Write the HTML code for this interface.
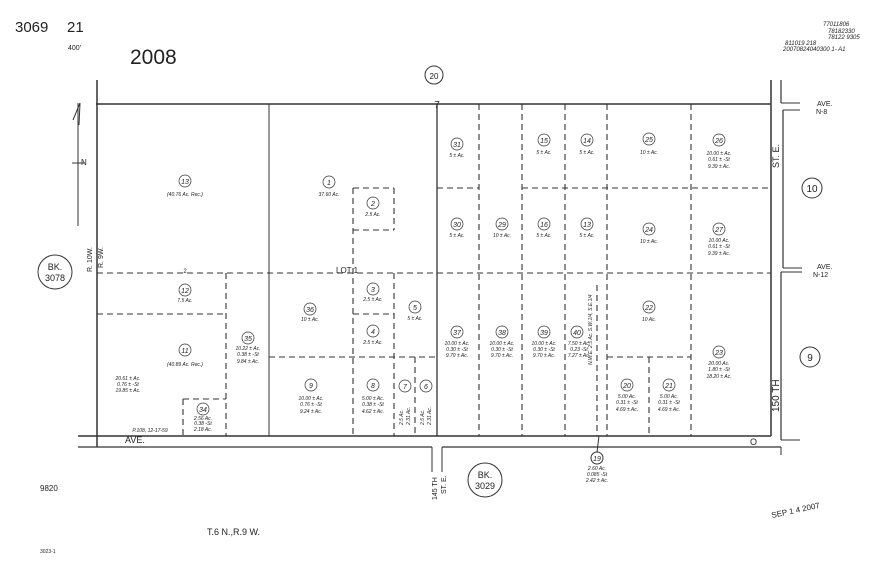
<!DOCTYPE html>
<html><head><meta charset="utf-8"><style>
html,body{margin:0;padding:0;background:#fff;}
svg{display:block;}
text{font-family:"Liberation Sans",sans-serif;fill:#222;}
.s{font-size:5px;font-style:italic;}
.n{font-size:7px;font-style:italic;}
</style></head><body>
<svg width="880" height="565" viewBox="0 0 880 565" xmlns="http://www.w3.org/2000/svg">
<g stroke="#333" fill="none">
<!-- solid lines -->
<line x1="96" y1="104" x2="771" y2="104" stroke-width="1.5"/>
<line x1="97" y1="80" x2="97" y2="447" stroke-width="1.5"/>
<line x1="269" y1="104" x2="269" y2="436" stroke-width="1"/>
<line x1="437" y1="104" x2="437" y2="436" stroke-width="1.3"/>
<line x1="771" y1="80" x2="771" y2="436" stroke-width="1.5"/>
<line x1="781" y1="80" x2="781" y2="103" stroke-width="1.2"/>
<line x1="781" y1="103" x2="800" y2="103" stroke-width="1"/>
<line x1="783" y1="110" x2="800" y2="110" stroke-width="1"/>
<line x1="783" y1="110" x2="783" y2="268" stroke-width="1.2"/>
<line x1="783" y1="268" x2="802" y2="268" stroke-width="1"/>
<line x1="781" y1="272" x2="802" y2="272" stroke-width="1"/>
<line x1="781" y1="272" x2="781" y2="440" stroke-width="1.2"/>
<line x1="78" y1="436" x2="771" y2="436" stroke-width="1.5"/>
<line x1="78" y1="447" x2="432" y2="447" stroke-width="1.3"/>
<line x1="442" y1="447" x2="781" y2="447" stroke-width="1.3"/>
<line x1="781" y1="440" x2="800" y2="440" stroke-width="1"/>
<line x1="781" y1="447" x2="781" y2="455" stroke-width="1"/>
<line x1="432" y1="447" x2="432" y2="472" stroke-width="1"/>
<line x1="442" y1="447" x2="442" y2="472" stroke-width="1"/>
<!-- north arrow -->
<line x1="78" y1="103" x2="78" y2="226" stroke-width="1"/>
<line x1="72" y1="163" x2="84" y2="163" stroke-width="1"/>
<path d="M73 120 L80 103 L79 125" stroke-width="1"/>
<!-- dashed lines -->
<g stroke-dasharray="6,4" stroke-width="1.1">
<line x1="97" y1="273" x2="771" y2="273"/>
<line x1="437" y1="188" x2="479" y2="188"/>
<line x1="522" y1="188" x2="771" y2="188"/>
<line x1="353" y1="188" x2="394" y2="188"/>
<line x1="353" y1="230" x2="394" y2="230"/>
<line x1="394" y1="188" x2="394" y2="230"/>
<line x1="353" y1="188" x2="353" y2="436"/>
<line x1="394" y1="273" x2="394" y2="436"/>
<line x1="353" y1="314" x2="394" y2="314"/>
<line x1="269" y1="357" x2="437" y2="357"/>
<line x1="415" y1="357" x2="415" y2="436"/>
<line x1="97" y1="314" x2="226" y2="314"/>
<line x1="226" y1="273" x2="226" y2="436"/>
<line x1="183" y1="399" x2="226" y2="399"/>
<line x1="183" y1="399" x2="183" y2="436"/>
<line x1="479" y1="104" x2="479" y2="436"/>
<line x1="522" y1="104" x2="522" y2="436"/>
<line x1="565" y1="104" x2="565" y2="436"/>
<line x1="607" y1="104" x2="607" y2="436"/>
<line x1="691" y1="104" x2="691" y2="436"/>
<line x1="607" y1="357" x2="691" y2="357"/>
<line x1="649" y1="357" x2="649" y2="436"/>
<line x1="597" y1="285" x2="597" y2="436"/>
</g>
<!-- circles -->
<g stroke-width="1">
<circle cx="434" cy="75" r="9"/>
<circle cx="55" cy="272" r="17"/>
<circle cx="485" cy="480" r="17"/>
<circle cx="812" cy="188" r="10"/>
<circle cx="810" cy="357" r="10"/>
<circle cx="597" cy="458" r="6"/>
<line x1="597" y1="452" x2="599" y2="436"/>
</g>
<g stroke-width="0.7">
<circle cx="185" cy="181" r="6"/><circle cx="329" cy="182" r="6"/><circle cx="373" cy="203" r="6"/>
<circle cx="185" cy="290" r="6"/><circle cx="185" cy="350" r="6"/><circle cx="248" cy="338" r="6"/>
<circle cx="310" cy="309" r="6"/><circle cx="373" cy="289" r="6"/><circle cx="415" cy="307" r="6"/>
<circle cx="373" cy="331" r="6"/><circle cx="311" cy="385" r="6"/><circle cx="373" cy="385" r="6"/>
<circle cx="405" cy="386" r="6"/><circle cx="426" cy="386" r="6"/><circle cx="203" cy="409" r="6"/>
<circle cx="457" cy="144" r="6"/><circle cx="457" cy="224" r="6"/><circle cx="502" cy="224" r="6"/>
<circle cx="544" cy="140" r="6"/><circle cx="587" cy="140" r="6"/><circle cx="544" cy="224" r="6"/>
<circle cx="587" cy="224" r="6"/><circle cx="649" cy="139" r="6"/><circle cx="719" cy="140" r="6"/>
<circle cx="649" cy="229" r="6"/><circle cx="719" cy="229" r="6"/><circle cx="649" cy="307" r="6"/>
<circle cx="719" cy="352" r="6"/><circle cx="457" cy="332" r="6"/><circle cx="502" cy="332" r="6"/>
<circle cx="544" cy="332" r="6"/><circle cx="577" cy="332" r="6"/><circle cx="627" cy="385" r="6"/>
<circle cx="669" cy="385" r="6"/>
</g>
</g>
<!-- header -->
<text x="15" y="32" font-size="15">3069</text>
<text x="67" y="32" font-size="15">21</text>
<text x="68" y="50" font-size="7">400'</text>
<text x="130" y="64" font-size="21">2008</text>
<g font-size="6" font-style="italic"><text x="823" y="26">77011806</text><text x="828" y="33">78182330</text><text x="828" y="39">78122 9305</text><text x="785" y="45">811019 218</text><text x="783" y="51">20070824040300 1- A1</text></g>
<text x="434" y="79" font-size="8" text-anchor="middle">20</text>
<text x="437" y="108" font-size="10" text-anchor="middle">7</text>
<text x="55" y="270" font-size="9" text-anchor="middle">BK.</text>
<text x="55" y="281" font-size="9" text-anchor="middle">3078</text>
<text x="485" y="478" font-size="9" text-anchor="middle">BK.</text>
<text x="485" y="489" font-size="9" text-anchor="middle">3029</text>
<text x="812" y="192" font-size="10" text-anchor="middle">10</text>
<text x="810" y="361" font-size="10" text-anchor="middle">9</text>
<text x="817" y="106" font-size="7">AVE.</text><text x="816" y="114" font-size="7">N-8</text>
<text x="817" y="269" font-size="7">AVE.</text><text x="813" y="277" font-size="7">N-12</text>
<text transform="translate(779,168) rotate(-90)" font-size="9">ST. E.</text>
<text transform="translate(779,412) rotate(-90)" font-size="10">150 TH</text>
<text transform="translate(437,500) rotate(-90)" font-size="7">145 TH</text>
<text transform="translate(446,494) rotate(-90)" font-size="7">ST. E.</text>
<text transform="translate(92,272) rotate(-90)" font-size="7">R. 10W.</text>
<text transform="translate(103,268) rotate(-90)" font-size="7">R. 9W.</text>
<text x="81" y="165" font-size="8">N</text>
<text x="125" y="443" font-size="9">AVE.</text>
<text x="750" y="445" font-size="9">O</text>
<text x="40" y="491" font-size="8">9820</text>
<text x="207" y="535" font-size="9">T.6 N.,R.9 W.</text>
<text x="40" y="553" font-size="5">3023-1</text>
<text transform="translate(772,518) rotate(-12)" font-size="8">SEP 1 4 2007</text>
<text x="336" y="273" font-size="8">LOT 1</text>
<text x="185" y="273" font-size="6" text-anchor="middle">2</text>
<!-- parcel numbers -->
<g class="n" text-anchor="middle">
<text x="185" y="184">13</text><text x="329" y="185">1</text><text x="373" y="206">2</text>
<text x="185" y="293">12</text><text x="185" y="353">11</text><text x="248" y="341">35</text>
<text x="310" y="312">36</text><text x="373" y="292">3</text><text x="415" y="310">5</text>
<text x="373" y="334">4</text><text x="311" y="388">9</text><text x="373" y="388">8</text>
<text x="405" y="389">7</text><text x="426" y="389">6</text><text x="203" y="412">34</text>
<text x="457" y="147">31</text><text x="457" y="227">30</text><text x="502" y="227">29</text>
<text x="544" y="143">15</text><text x="587" y="143">14</text><text x="544" y="227">16</text>
<text x="587" y="227">13</text><text x="649" y="142">25</text><text x="719" y="143">26</text>
<text x="649" y="232">24</text><text x="719" y="232">27</text><text x="649" y="310">22</text>
<text x="719" y="355">23</text><text x="457" y="335">37</text><text x="502" y="335">38</text>
<text x="544" y="335">39</text><text x="577" y="335">40</text><text x="627" y="388">20</text>
<text x="669" y="388">21</text><text x="597" y="461">19</text>
</g>
<!-- acreage -->
<g class="s" text-anchor="middle">
<text x="185" y="196">(40.76 Ac. Rec.)</text><text x="329" y="196">37.60 Ac.</text><text x="373" y="216">2.5 Ac.</text>
<text x="185" y="302">7.5 Ac.</text><text x="185" y="366">(40.89 Ac. Rec.)</text>
<text x="128" y="380">20.61 ± Ac.</text><text x="128" y="386">0.76 ± -St</text><text x="128" y="392">19.85 ± Ac.</text>
<text x="248" y="350">10.22 ± Ac.</text><text x="248" y="356">0.38 ± -St</text><text x="248" y="363">9.84 ± Ac.</text>
<text x="310" y="321">10 ± Ac.</text><text x="373" y="301">2.5 ± Ac.</text><text x="415" y="320">5 ± Ac.</text>
<text x="373" y="344">2.5 ± Ac.</text>
<text x="311" y="400">10.00 ± Ac.</text><text x="311" y="406">0.76 ± -St</text><text x="311" y="413">9.24 ± Ac.</text>
<text x="373" y="400">5.00 ± Ac.</text><text x="373" y="406">0.38 ± -St</text><text x="373" y="413">4.62 ± Ac.</text>
<text x="203" y="420">2.56 Ac.</text><text x="203" y="425">0.38 -St</text><text x="203" y="431">2.18 Ac.</text>
<text x="457" y="157">5 ± Ac.</text><text x="457" y="237">5 ± Ac.</text><text x="502" y="237">10 ± Ac.</text>
<text x="544" y="154">5 ± Ac.</text><text x="587" y="154">5 ± Ac.</text><text x="544" y="237">5 ± Ac.</text>
<text x="587" y="237">5 ± Ac.</text><text x="649" y="154">10 ± Ac.</text><text x="649" y="243">10 ± Ac.</text>
<text x="719" y="155">10.00 ± Ac.</text><text x="719" y="161">0.61 ± -St</text><text x="719" y="168">9.39 ± Ac.</text>
<text x="719" y="242">10.00 Ac.</text><text x="719" y="248">0.61 ± -St</text><text x="719" y="255">9.39 ± Ac.</text>
<text x="649" y="321">10 Ac.</text>
<text x="719" y="365">20.00 Ac.</text><text x="719" y="371">1.80 ± -St</text><text x="719" y="378">18.20 ± Ac.</text>
<text x="457" y="345">10.00 ± Ac.</text><text x="457" y="351">0.30 ± -St</text><text x="457" y="357">9.70 ± Ac.</text>
<text x="502" y="345">10.00 ± Ac.</text><text x="502" y="351">0.30 ± -St</text><text x="502" y="357">9.70 ± Ac.</text>
<text x="544" y="345">10.00 ± Ac.</text><text x="544" y="351">0.30 ± -St</text><text x="544" y="357">9.70 ± Ac.</text>
<text x="579" y="345">7.50 ± Ac.</text><text x="579" y="351">0.23 -St</text><text x="579" y="357">7.27 ± Ac.</text>
<text x="627" y="398">5.00 Ac.</text><text x="627" y="404">0.31 ± -St</text><text x="627" y="411">4.69 ± Ac.</text>
<text x="669" y="398">5.00 Ac.</text><text x="669" y="404">0.31 ± -St</text><text x="669" y="411">4.69 ± Ac.</text>
<text x="597" y="470">2.60 Ac.</text><text x="597" y="476">0.085 -St</text><text x="597" y="482">2.42 ± Ac.</text>
<text x="150" y="432">P.108, 12-17-59</text>
</g>
<text transform="translate(592,365) rotate(-90)" class="s">N.W.E. 2.5 Ac. S.W.1/4, S.E.1/4</text>
<text transform="translate(403,425) rotate(-90)" class="s">2.5 Ac.</text>
<text transform="translate(410,425) rotate(-90)" class="s">2.31 Ac.</text>
<text transform="translate(424,425) rotate(-90)" class="s">2.5 Ac.</text>
<text transform="translate(431,425) rotate(-90)" class="s">2.31 Ac.</text>
</svg>
</body></html>
